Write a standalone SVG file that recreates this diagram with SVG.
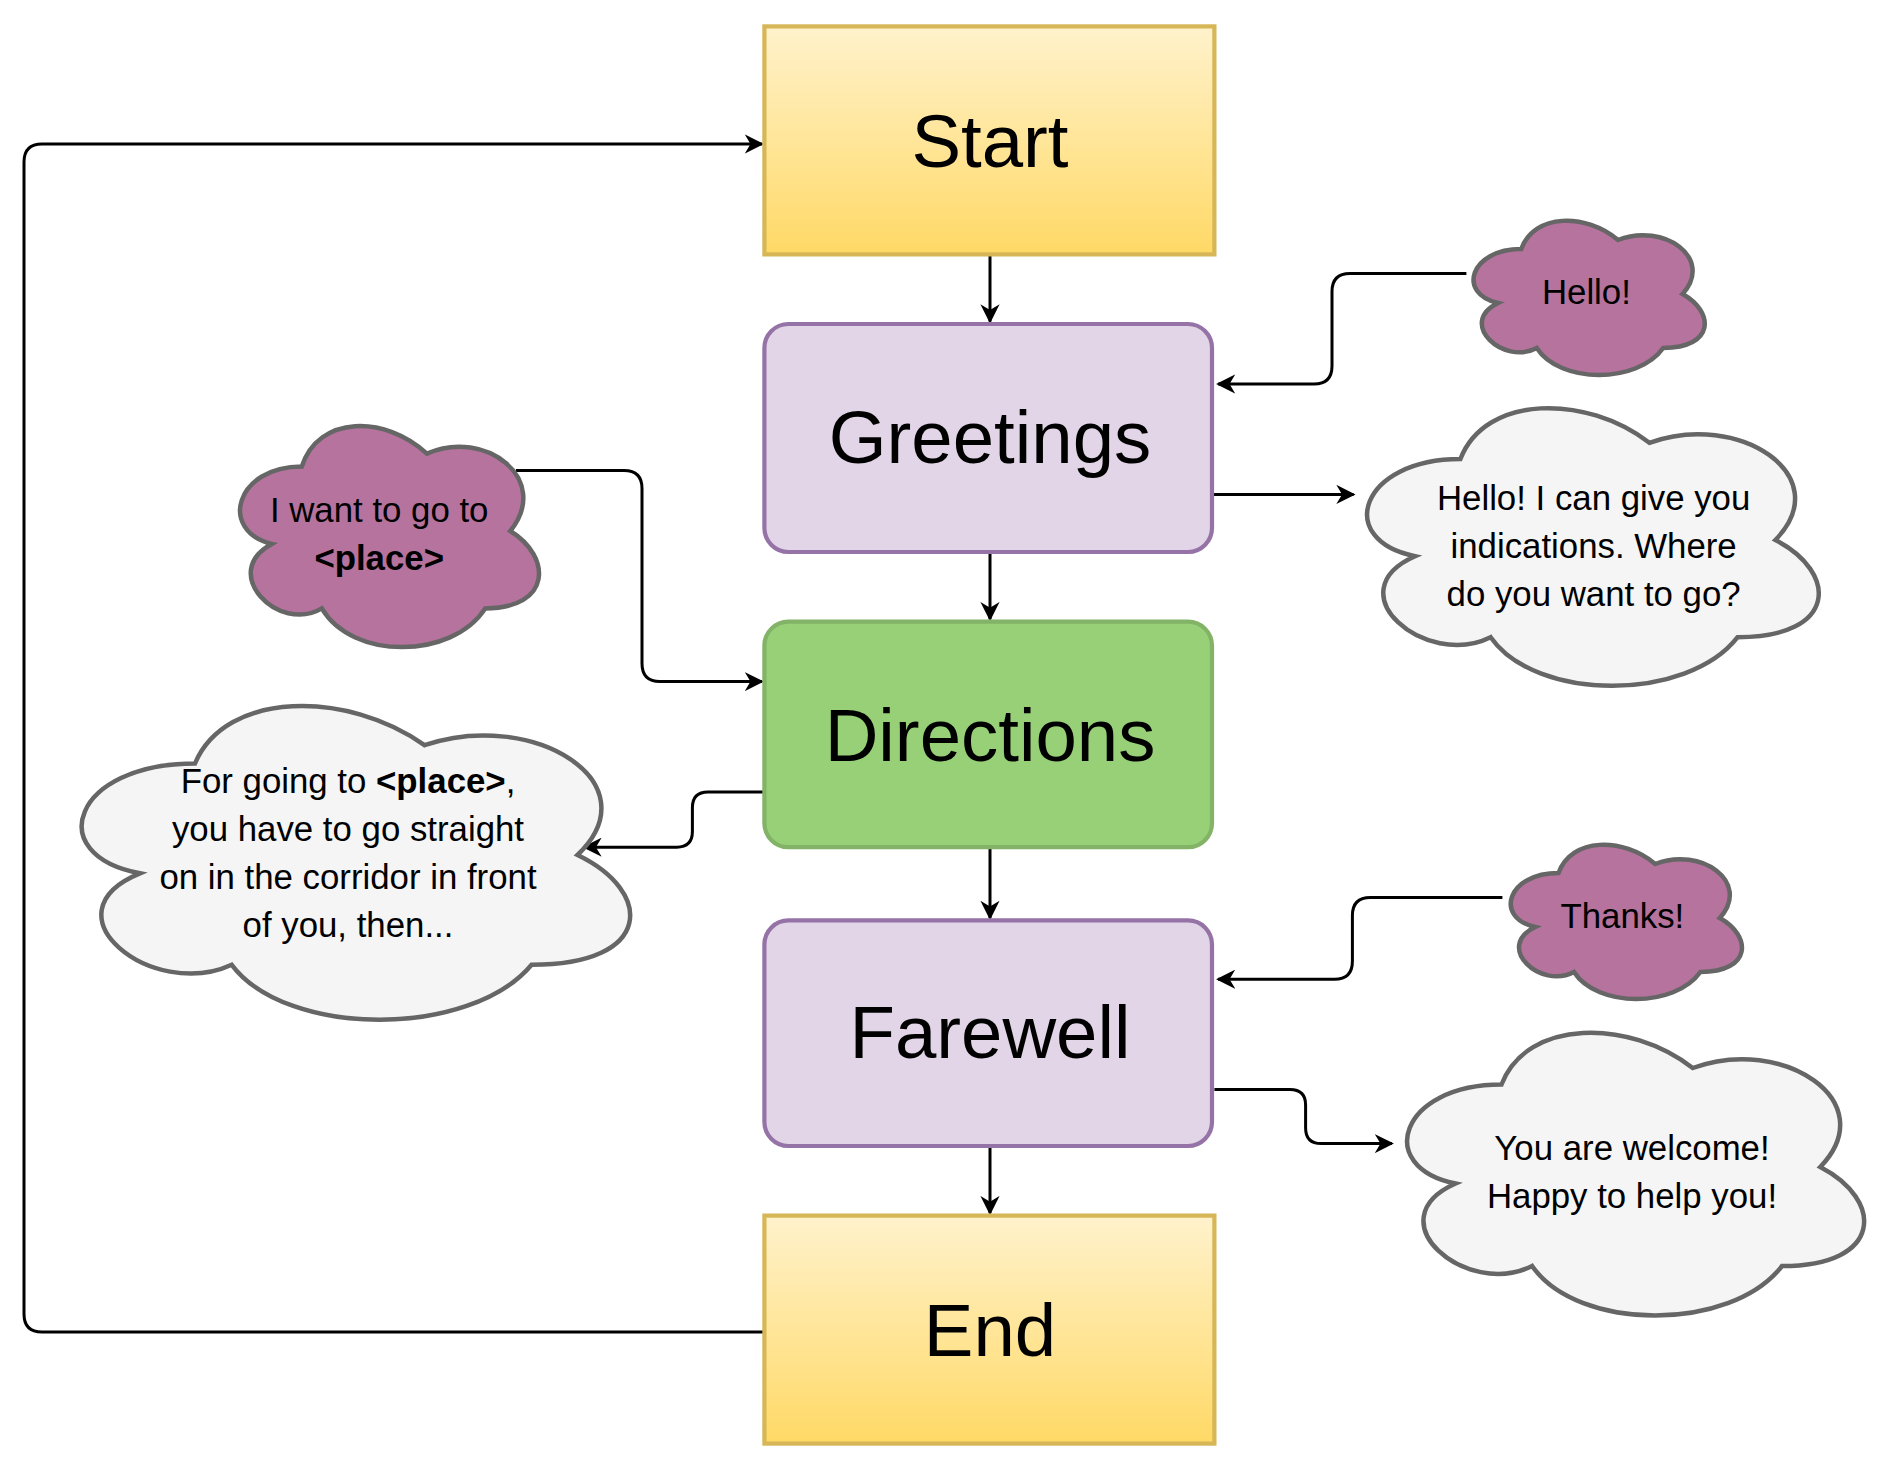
<svg xmlns="http://www.w3.org/2000/svg" width="1878" height="1464" viewBox="0 0 1878 1464">
<style>
.t{font-family:"Liberation Sans",Arial,sans-serif;text-anchor:middle;fill:#000}
.big{font-size:62px}
.sm{font-size:29px}
.y{fill:url(#yg);stroke:#d6b656;stroke-width:3.5}
.p{fill:#e1d5e7;stroke:#9673a6;stroke-width:3.5}
.g{fill:#97d077;stroke:#82b366;stroke-width:3.5}
.cp{fill:#b5739d;stroke:#666;stroke-width:4.5}
.cw{fill:#f5f5f5;stroke:#666;stroke-width:4.5}
.c{fill:none;stroke:#000;stroke-width:2.5;marker-end:url(#ar)}
</style>
<defs>
<linearGradient id="yg" x1="0" y1="0" x2="0" y2="1"><stop offset="0" stop-color="#fff2cc"/><stop offset="1" stop-color="#ffd966"/></linearGradient>
<marker id="ar" viewBox="0 0 10 10" refX="9" refY="5" markerWidth="16" markerHeight="16" markerUnits="userSpaceOnUse" orient="auto"><path d="M0,0 L10,5 L0,10 L3,5 Z" fill="#000"/></marker>
<path id="cl" vector-effect="non-scaling-stroke" d="M25,25 C5,25 0,50 16,55 C0,66 18,90 31,80 C40,100 70,100 80,80 C100,80 100,60 87.5,50 C100,30 80,10 62.5,20 C50,5 30,5 25,25 Z"/>
</defs>
<g transform="scale(1.2)">
<g id="connectors">
<path class="c" d="M825,212 V268"/>
<path class="c" d="M825,460 V516"/>
<path class="c" d="M825,706 V765"/>
<path class="c" d="M825,955 V1011"/>
<path class="c" d="M637,1110 H35 Q20,1110 20,1095 V135 Q20,120 35,120 H635"/>
<path class="c" d="M1222,228 H1125 Q1110,228 1110,243 V305 Q1110,320 1095,320 H1015"/>
<path class="c" d="M1010,412 H1128"/>
<path class="c" d="M430,392 H520 Q535,392 535,407 V553 Q535,568 550,568 H635"/>
<path class="c" d="M637,660 H590 Q577,660 577,673 V693 Q577,706 564,706 H487"/>
<path class="c" d="M1252,748 H1142 Q1127,748 1127,763 V801 Q1127,816 1112,816 H1015"/>
<path class="c" d="M1012,908 H1075 Q1088,908 1088,921 V940 Q1088,953 1101,953 H1160"/>
</g>
<g id="start"><rect class="y" x="637" y="22" width="375" height="190"/><text class="t big" x="825" y="139">Start</text></g>
<g id="greetings"><rect class="p" x="637" y="270" width="373" height="190" rx="20"/><text class="t big" x="825" y="386">Greetings</text></g>
<g id="directions"><rect class="g" x="637" y="518" width="373" height="188" rx="20"/><text class="t big" x="825" y="634">Directions</text></g>
<g id="farewell"><rect class="p" x="637" y="767" width="373" height="188" rx="20"/><text class="t big" x="825" y="882">Farewell</text></g>
<g id="end"><rect class="y" x="637" y="1013" width="375" height="190"/><text class="t big" x="825" y="1130">End</text></g>
<g id="hello"><use href="#cl" class="cp" transform="translate(1214,170) scale(2.15,1.5)"/><text class="t sm" x="1322" y="253">Hello!</text></g>
<g id="want"><use href="#cl" class="cp" transform="translate(182,335) scale(2.78,2.15)"/><text class="t sm" x="316" y="435">I want to go to</text><text class="t sm" x="316" y="475" font-weight="bold">&lt;place&gt;</text></g>
<g id="thanks"><use href="#cl" class="cp" transform="translate(1245,690) scale(2.15,1.5)"/><text class="t sm" x="1352" y="773">Thanks!</text></g>
<g id="reply1"><use href="#cl" class="cw" transform="translate(1112,315) scale(4.2,2.7)"/><text class="t sm" x="1328" y="425">Hello! I can give you</text><text class="t sm" x="1328" y="465">indications. Where</text><text class="t sm" x="1328" y="505">do you want to go?</text></g>
<g id="reply2"><use href="#cl" class="cw" transform="translate(35,560) scale(5.1,3.05)"/><text class="t sm" x="290" y="661">For going to <tspan font-weight="bold">&lt;place&gt;</tspan>,</text><text class="t sm" x="290" y="701">you have to go straight</text><text class="t sm" x="290" y="741">on in the corridor in front</text><text class="t sm" x="290" y="781">of you, then...</text></g>
<g id="reply3"><use href="#cl" class="cw" transform="translate(1145,835) scale(4.25,2.75)"/><text class="t sm" x="1360" y="967">You are welcome!</text><text class="t sm" x="1360" y="1007">Happy to help you!</text></g>
</g>
</svg>
